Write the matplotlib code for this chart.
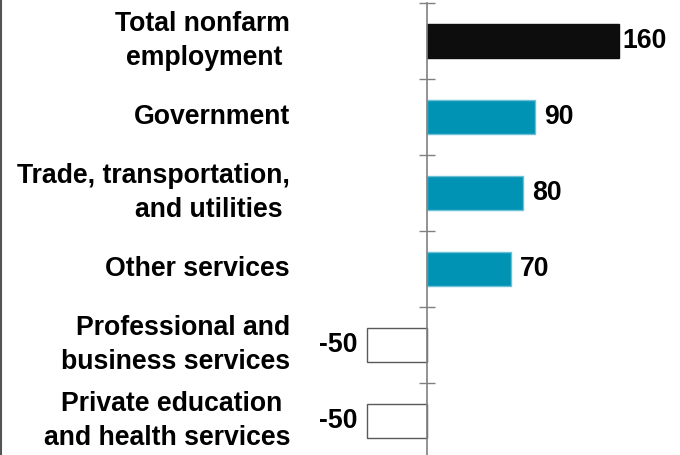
import matplotlib
matplotlib.use("Agg")
import matplotlib.pyplot as plt
from matplotlib.lines import Line2D

plt.rcParams['font.family'] = ['Liberation Sans', 'DejaVu Sans']
plt.rcParams['font.weight'] = 'bold'

# data
categories = ["Total nonfarm\nemployment ", "Government", "Trade, transportation,\nand utilities ",
              "Other services", "Professional and\nbusiness services",
              "Private education \nand health services"]
changes = [160, 90, 80, 70, -50, -50]

# colours
total_color = '#0d0d0d'
up_color = '#0093b3'
up_edge = '#6cc0d6'
down_edge = '#595959'
axis_gray = '#808080'

W, H = 680, 455
fig = plt.figure(figsize=(W/100, H/100), dpi=100)
# 1.2 px per unit, zero line at x=427 px, rows 76 px apart starting at y=3 px
ax = fig.add_axes([0, -4/H, 1, 456/H])
ax.set_xlim(-427/1.2, (W-427)/1.2)
ax.set_ylim(len(categories)-0.5, -0.5)

for i, (lab, v) in enumerate(zip(categories, changes)):
    if i == 0:
        fc, ec = total_color, total_color
    elif v > 0:
        fc, ec = up_color, up_edge
    else:
        fc, ec = 'white', down_edge
    ax.barh(i, v, height=0.45, color=fc, edgecolor=ec, linewidth=1.0, zorder=2)

    # value label
    pad = 3 if i == 0 else 9
    if v >= 0:
        ax.annotate(str(v), xy=(v, i), xytext=(pad, 0), textcoords='offset pixels',
                    ha='left', va='center', fontsize=19.2, fontweight='bold', color='black')
    else:
        ax.annotate(str(v), xy=(v, i), xytext=(-pad, 0), textcoords='offset pixels',
                    ha='right', va='center', fontsize=19.2, fontweight='bold', color='black')

    # category label
    ax.annotate(lab, xy=(0, i), xytext=(-137, 0), textcoords='offset pixels',
                ha='right', va='center', multialignment='right', linespacing=1.4,
                fontsize=19.2, fontweight='bold', color='black')

# zero axis with crossing ticks on category boundaries
for s in ['top', 'right', 'bottom']:
    ax.spines[s].set_visible(False)
ax.spines['left'].set_position(('data', 0))
ax.spines['left'].set_color(axis_gray)
ax.spines['left'].set_linewidth(1.2)
ax.spines['left'].set_zorder(3)
ax.set_yticks([i - 0.5 for i in range(len(categories))])
ax.set_yticklabels([])
ax.tick_params(axis='y', direction='inout', length=11, width=1.0, color=axis_gray)
ax.set_xticks([])
ax.patch.set_visible(False)

# thin frame line at the left edge
fig.add_artist(Line2D([0.5/W, 0.5/W], [0, 1], color='#555555', linewidth=1.5))

plt.savefig('out.png', dpi=100)
